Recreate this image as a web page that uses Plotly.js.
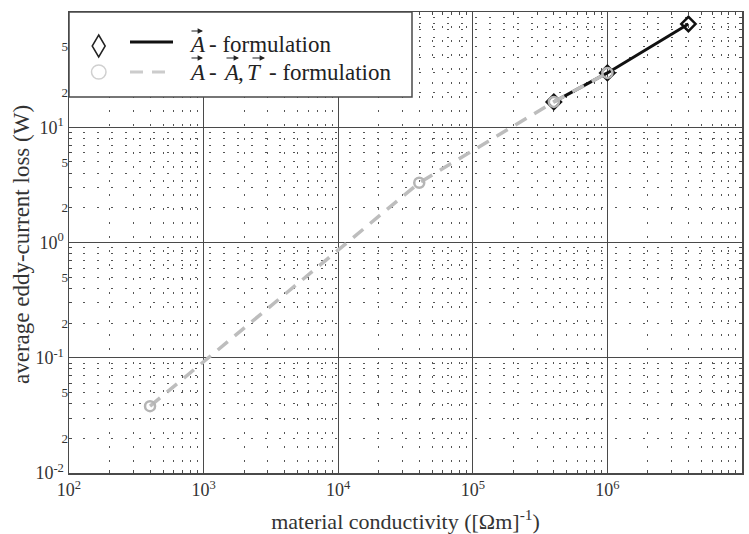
<!DOCTYPE html>
<html>
<head>
<meta charset="utf-8">
<script src="https://cdn.plot.ly/plotly-3.0.1.min.js"></script>
<style>html,body{margin:0;padding:0;background:#fff;}#chart{width:749px;height:534px;}</style>
</head>
<body>
<div id="chart"></div>
<script>
// Data
const aX = [4e5, 1e6, 4e6];
const aY = [16.6, 29.6, 78.7];
const atX = [400, 4e4, 4e5, 1e6];
const atY = [0.038, 3.3, 16.6, 29.6];

const xDecades = [1e2, 1e3, 1e4, 1e5, 1e6, 1e7];
const xDecadeLabels = ['10<sup>2</sup>', '10<sup>3</sup>', '10<sup>4</sup>', '10<sup>5</sup>', '10<sup>6</sup>', '10<sup>7</sup>'];
const yDecades = [1e-2, 1e-1, 1e0, 1e1, 1e2];
const yDecadeLabels = ['10<sup>-2</sup>', '10<sup>-1</sup>', '10<sup>0</sup>', '10<sup>1</sup>', '10<sup>2</sup>'];
const ySubVals = [0.02, 0.05, 0.2, 0.5, 2, 5, 20, 50];
const ySubLabels = ['2', '5', '2', '5', '2', '5', '2', '5'];

const xTitle = 'material conductivity ([\u03A9m]<sup>-1</sup>)';
const yTitle = 'average eddy-current loss (W)';

// Legend texts, split so that vector arrows can be drawn over the letters
const legend1 = ['A', '- formulation'];
const legend2 = ['A', '-', 'A', ',', 'T', '- formulation'];

function minorVals(decades) {
  const out = [];
  for (let i = 0; i < decades.length - 1; i++) {
    for (let k = 2; k <= 9; k++) out.push(decades[i] * k);
  }
  return out;
}

// plot-area pixel geometry -> paper coordinates (for legend layout only)
const M = {l: 69, r: 7, t: 12, b: 61};
const PW = 749 - M.l - M.r, PH = 534 - M.t - M.b;
const px = p => (p - M.l) / PW;
const py = p => (534 - M.b - p) / PH;

const gridCol = '#4a4a4a';
const dotCol = '#555';
const font = 'Liberation Serif';
const txtCol = '#222';

const traces = [
  {x: aX, y: aY, mode: 'lines+markers', type: 'scatter',
   line: {color: '#111', width: 3},
   marker: {symbol: 'diamond-open', size: 11, color: '#111', line: {width: 2.5}},
   showlegend: false},
  {x: atX, y: atY, mode: 'lines+markers', type: 'scatter',
   line: {color: '#bdbdbd', width: 3.5, dash: '13px,9px'},
   marker: {symbol: 'circle-open', size: 10, color: '#b5b5b5', line: {width: 2.5}},
   showlegend: false},
  {x: [], y: [], yaxis: 'y2', type: 'scatter', showlegend: false}
];

const axCommon = {
  type: 'log',
  showline: true, linecolor: gridCol, linewidth: 1.5, mirror: 'ticks',
  ticks: 'inside', ticklen: 6, tickcolor: gridCol,
  showgrid: true, gridcolor: gridCol, gridwidth: 1.3,
  zeroline: false,
  tickfont: {family: font, size: 18, color: '#333'}
};

// legend pieces: [text, left pixel, row center pixel, italic]
const row1 = 45, row2 = 72;
const pieces = [
  [legend1[0], 187, row1, true], [legend1[1], 207, row1, false],
  [legend2[0], 187, row2, true], [legend2[1], 207, row2, false],
  [legend2[2], 221, row2, true], [legend2[3], 236, row2, false],
  [legend2[4], 245, row2, true], [legend2[5], 267, row2, false]
];
// arrows over vector letters: [left px, right px, y px]
const arrows = [[190, 203, row1 - 14], [190, 203, row2 - 14], [225, 239, row2 - 14], [251, 265, row2 - 14]];

const annotations = [];
pieces.forEach(p => {
  annotations.push({xref: 'paper', yref: 'paper', x: px(p[1]), y: py(p[2]),
    text: p[3] ? '<i>' + p[0] + '</i>' : p[0], showarrow: false,
    font: {family: font, size: 23, color: txtCol}, xanchor: 'left', yanchor: 'middle'});
});
arrows.forEach(a => {
  annotations.push({xref: 'paper', yref: 'paper', x: px(a[1]), y: py(a[2]), text: '',
    showarrow: true, ax: -(a[1] - a[0]), ay: 0, arrowhead: 2, arrowsize: 0.9, arrowwidth: 1.2,
    arrowcolor: txtCol, standoff: 0, startstandoff: 0});
});
annotations.push({xref: 'paper', yref: 'paper', x: px(21), y: py(245), text: yTitle, textangle: -90,
  showarrow: false, xanchor: 'center', yanchor: 'middle', font: {family: font, size: 23, color: '#333'}});

const diamondPath = 'M ' + px(98.7) + ' ' + py(35) + ' L ' + px(105.2) + ' ' + py(46) +
  ' L ' + px(98.7) + ' ' + py(57) + ' L ' + px(92.2) + ' ' + py(46) + ' Z';

const layout = {
  width: 749, height: 534,
  margin: M,
  paper_bgcolor: '#fff', plot_bgcolor: '#fff',
  font: {family: font, color: '#333'},
  showlegend: false,
  xaxis: Object.assign({}, axCommon, {
    range: [2, 7],
    tickmode: 'array', tickvals: xDecades, ticktext: xDecadeLabels,
    minor: {tickmode: 'array', tickvals: minorVals(xDecades), ticks: 'inside', ticklen: 3, tickcolor: gridCol,
            showgrid: true, gridcolor: dotCol, gridwidth: 1, griddash: '2px,12px'},
    title: {text: xTitle, font: {family: font, size: 22, color: '#333'}, standoff: 16}
  }),
  yaxis: Object.assign({}, axCommon, {
    range: [-2, 2],
    tickmode: 'array', tickvals: yDecades, ticktext: yDecadeLabels,
    minor: {tickmode: 'array', tickvals: minorVals(yDecades), ticks: 'inside', ticklen: 3, tickcolor: gridCol,
            showgrid: true, gridcolor: dotCol, gridwidth: 1, griddash: '2px,12px'}
  }),
  yaxis2: {
    type: 'log', overlaying: 'y', side: 'left', range: [-2, 2],
    tickmode: 'array', tickvals: ySubVals, ticktext: ySubLabels,
    showgrid: false, showline: false, zeroline: false, ticks: '',
    tickfont: {family: font, size: 13, color: '#333'}
  },
  shapes: [
    {type: 'rect', xref: 'paper', yref: 'paper', x0: 0, x1: px(412), y0: py(97), y1: 1,
     fillcolor: '#fff', line: {color: gridCol, width: 1.5}, layer: 'above'},
    {type: 'line', xref: 'paper', yref: 'paper', x0: px(130), x1: px(173), y0: py(42), y1: py(42),
     line: {color: '#111', width: 3}, layer: 'above'},
    {type: 'line', xref: 'paper', yref: 'paper', x0: px(130), x1: px(173), y0: py(72), y1: py(72),
     line: {color: '#cccccc', width: 3, dash: '13px,9px'}, layer: 'above'},
    {type: 'path', xref: 'paper', yref: 'paper', path: diamondPath,
     line: {color: txtCol, width: 1.5}, layer: 'above'},
    {type: 'circle', xref: 'paper', yref: 'paper', x0: px(91.5), x1: px(106), y0: py(79), y1: py(65),
     line: {color: '#d0d0d0', width: 1.5}, layer: 'above'}
  ],
  annotations: annotations
};

Plotly.newPlot('chart', traces, layout, {displayModeBar: false, staticPlot: true});
</script>
</body>
</html>
